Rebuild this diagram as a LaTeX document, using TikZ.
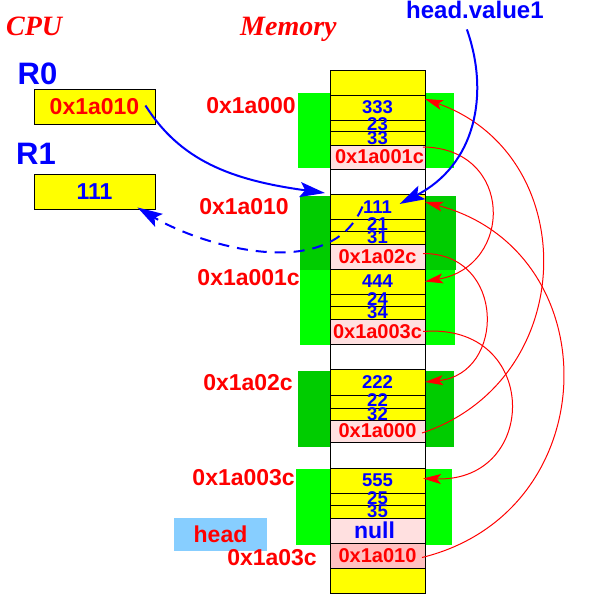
\documentclass[tikz,border=0pt]{standalone}
\usepackage{fontspec}
\setmainfont{Liberation Sans}
\newfontfamily\serifbi{Liberation Serif}
\usetikzlibrary{arrows.meta,calc}
\definecolor{yel}{HTML}{FFFF00}
\definecolor{pinkA}{HTML}{FFE0E0}
\definecolor{pinkB}{HTML}{FFC0C0}
\definecolor{grA}{HTML}{00FF00}
\definecolor{grB}{HTML}{00CC00}
\definecolor{ltblue}{HTML}{87CEFF}
\definecolor{redz}{HTML}{FF0000}
\definecolor{bluez}{HTML}{0000FF}
\begin{document}
\begin{tikzpicture}[x=1pt,y=-1pt,
  cell/.style={draw=black, line width=0.9pt, minimum width=95pt, inner sep=0pt, outer sep=0pt, anchor=north west},
  yc/.style={cell, fill=yel},
  pc/.style={cell, fill=pinkA},
  wc/.style={cell, fill=white},
  num/.style={text=bluez, font=\fontsize{18.5}{18.5}\selectfont\bfseries, inner sep=0pt},
  addr/.style={text=redz, font=\fontsize{20}{20}\selectfont\bfseries, inner sep=0pt},
  lbl/.style={text=redz, font=\fontsize{23}{23}\selectfont\bfseries, inner sep=0pt, anchor=east},
  reg/.style={draw=black, line width=0.9pt, fill=yel, minimum width=121pt, minimum height=35pt, inner sep=0pt, font=\fontsize{23}{23}\selectfont\bfseries},
  regname/.style={text=bluez, font=\fontsize{31}{31}\selectfont\bfseries, inner sep=0pt},
  title/.style={text=redz, font=\fontsize{28}{28}\selectfont\serifbi\bfseries\itshape, inner sep=0pt, anchor=base west},
  redarr/.style={redz, line width=1pt, -{Stealth[length=18pt,width=10pt,inset=4pt]}},
  bluearr/.style={bluez, line width=2pt, -{Stealth[length=25pt,width=15pt,inset=5pt]}},
]
\useasboundingbox (0,0) rectangle (592,605);

% green blocks
\fill[grA] (298,93) rectangle (454,168);
\fill[grB] (300,196) rectangle (456,270);
\fill[grA] (300,270) rectangle (455,345);
\fill[grB] (298,371) rectangle (454,447);
\fill[grA] (296,469) rectangle (452,545);

% memory column
\node[yc, minimum height=25pt] (c0) at (330,70) {};
\node[yc, minimum height=25pt] (c333) at (330,95) {};
\node[yc, minimum height=11pt] (c23) at (330,120) {};
\node[yc, minimum height=14pt] (c33) at (330,131) {};
\node[pc, minimum height=24pt] (p1c) at (330,145) {};
\node[wc, minimum height=25pt] (w1) at (330,169) {};
\node[yc, minimum height=25pt] (c111) at (330,194) {};
\node[yc, minimum height=12pt] (c21) at (330,219) {};
\node[yc, minimum height=13pt] (c31) at (330,231) {};
\node[pc, minimum height=25pt] (p2c) at (330,244) {};
\node[yc, minimum height=25pt] (c444) at (330,269) {};
\node[yc, minimum height=12pt] (c24) at (330,294) {};
\node[yc, minimum height=13pt] (c34) at (330,306) {};
\node[pc, minimum height=25pt] (p3c) at (330,319) {};
\node[wc, minimum height=25pt] (w2) at (330,344) {};
\node[yc, minimum height=26pt] (c222) at (330,369) {};
\node[yc, minimum height=13pt] (c22) at (330,395) {};
\node[yc, minimum height=12pt] (c32) at (330,408) {};
\node[pc, minimum height=22pt] (p00) at (330,420) {};
\node[wc, minimum height=26pt] (w3) at (330,442) {};
\node[yc, minimum height=25pt] (c555) at (330,468) {};
\node[yc, minimum height=12pt] (c25) at (330,493) {};
\node[yc, minimum height=13pt] (c35) at (330,505) {};
\node[pc, minimum height=25pt] (pnull) at (330,518) {};
\node[cell, fill=pinkB, minimum height=25pt] (p10) at (330,543) {};
\node[yc, minimum height=25pt] (cend) at (330,568) {};

% cell texts
\node[num] (t333) at (c333.center) {333};
\node[num] (t23) at ($(c23.center)+(0,-1)$) {23};
\node[num] (t33) at (c33.center) {33};
\node[addr] (t1c) at ($(p1c.center)+(2,0)$) {0x1a001c};
\node[num] (t111) at ($(c111.center)+(0,1)$) {111};
\node[num] (t21) at ($(c21.center)+(0,-1)$) {21};
\node[num] (t31) at (c31.center) {31};
\node[addr] (t2c) at (p2c.center) {0x1a02c};
\node[num] (t444) at (c444.center) {444};
\node[num] (t24) at ($(c24.center)+(0,-1)$) {24};
\node[num] (t34) at (c34.center) {34};
\node[addr] (t3c) at (p3c.center) {0x1a003c};
\node[num] (t222) at (c222.center) {222};
\node[num] (t22) at ($(c22.center)+(0,-1)$) {22};
\node[num] (t32) at (c32.center) {32};
\node[addr] (t00) at (p00.center) {0x1a000};
\node[num] (t555) at (c555.center) {555};
\node[num] (t25) at ($(c25.center)+(0,-1)$) {25};
\node[num] (t35) at (c35.center) {35};
\node[num, font=\fontsize{23}{23}\selectfont\bfseries] (tnull) at ($(pnull.center)+(-3,0)$) {null};
\node[addr] (t10) at (p10.center) {0x1a010};

% address labels
\node[lbl] (a000) at (296,106) {0x1a000};
\node[lbl] (a010) at (289,207) {0x1a010};
\node[lbl] (a01c) at (300,278) {0x1a001c};
\node[lbl] (a02c) at (293,383) {0x1a02c};
\node[lbl] (a03cx) at (295,478) {0x1a003c};
\node[fill=ltblue, minimum width=93pt, minimum height=33pt, inner sep=0pt, text=redz, font=\fontsize{23}{23}\selectfont\bfseries] (head) at (220.5,534.5) {head\hspace{6pt}};
\node[lbl] (a03c) at (317,558) {0x1a03c};

% titles
\node[title] (cpu) at (6,35) {CPU};
\node[title] (mem) at (240,35) {Memory};
\node[text=bluez, font=\fontsize{24}{24}\selectfont\bfseries, inner sep=0pt, anchor=base west] (hv) at (406,19) {head.value1};

% registers
\node[regname] (r0n) at (37.5,74) {R0};
\node[reg, text=redz] (R0) at (94.5,106.5) {0x1a010};
\node[regname] (r1n) at (36,154) {R1};
\node[reg, text=bluez] (R1) at (94.5,191.5) {111};

% red pointer arrows
\draw[redarr] ($(p1c.north east)+(-2,2)$) .. controls (514,148) and (514,266) .. (c444.east);
\draw[redarr] ($(p2c.east)+(-2,-3)$) .. controls (506,253) and (506,374) .. (c222.east);
\draw[redarr] ($(p3c.east)+(-2,0)$) .. controls (540,322) and (540,482) .. ($(c555.east)+(-2,-2)$);
\draw[redarr] ($(p00.east)+(-3,2)$) .. controls (580,380) and (583,155) .. ($(c333.north east)+(0,4)$);
\draw[redarr] ($(p10.east)+(-3,2)$) .. controls (607,512) and (610,251) .. ($(c111.north east)+(0,8)$);

% blue arrows
\draw[bluearr] ($(R0.east)+(-10,-1)$) .. controls (180,160) and (230,180) .. ($(w1.south west)+(-5,-1)$);
\draw[bluearr] ($(hv.south)+(-8,10)$) .. controls (490,95) and (475,165) .. ($(c111.north)+(22,10)$);
\draw[bluearr, dash pattern=on 11pt off 8pt] ($(c111.center)+(-15,0)$) .. controls (330,285) and (200,245) .. ($(R1.south east)+(-18,-2)$);
\end{tikzpicture}
\end{document}
